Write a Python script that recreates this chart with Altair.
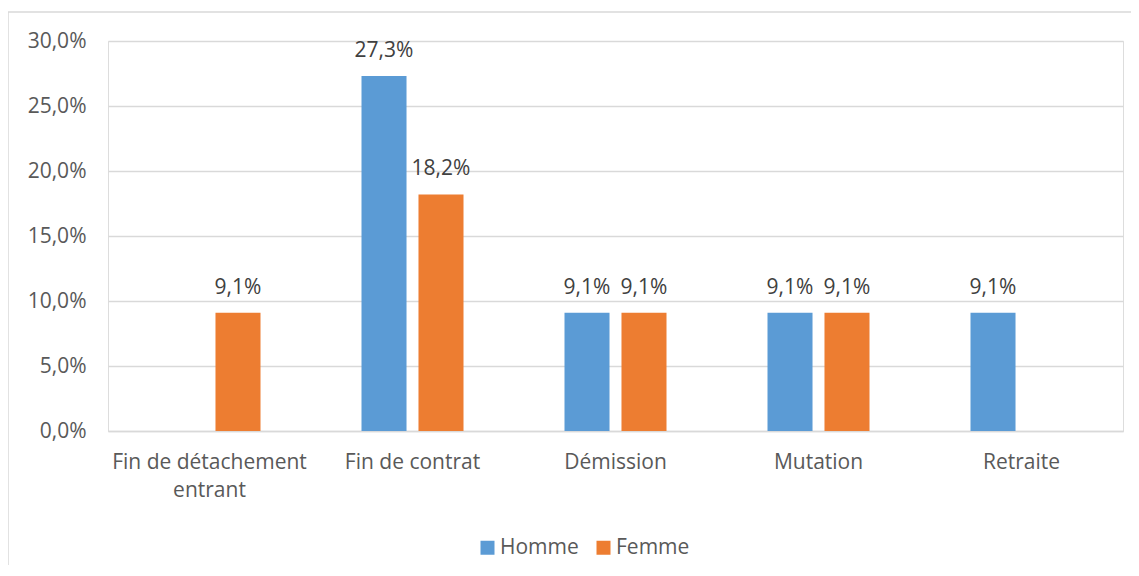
import altair as alt
import pandas as pd

categories = ["Fin de détachement entrant", "Fin de contrat", "Démission", "Mutation", "Retraite"]
series = ["Homme", "Femme"]
homme = [None, 0.273, 0.091, 0.091, 0.091]
femme = [0.091, 0.182, 0.091, 0.091, None]
colors = ["#5B9BD5", "#ED7D31"]
y_ticks = [0, 0.05, 0.10, 0.15, 0.20, 0.25, 0.30]

rows = []
for c, h, f in zip(categories, homme, femme):
    if h is not None:
        rows.append({"cat": c, "serie": "Homme", "val": h})
    if f is not None:
        rows.append({"cat": c, "serie": "Femme", "val": f})
df = pd.DataFrame(rows)

FONT = "Open Sans"
FS = 21

x_enc = alt.X("cat:N", sort=categories, title=None,
              scale=alt.Scale(paddingInner=0.4975, paddingOuter=0.24875),
              axis=alt.Axis(labelAngle=0, labelFont=FONT, labelFontSize=FS, labelColor="#595959",
                            labelPadding=20, labelLineHeight=28, ticks=False, labelLimit=0,
                            domainColor="#D9D9D9", domainWidth=1.5,
                            labelExpr="datum.label == 'Fin de détachement entrant' ? ['Fin de détachement', 'entrant'] : datum.label"))
xo_enc = alt.XOffset("serie:N", sort=series, scale=alt.Scale(paddingInner=0.21, paddingOuter=0))
y_enc = alt.Y("val:Q", title=None,
              scale=alt.Scale(domain=[0, 0.3], nice=False),
              axis=alt.Axis(values=y_ticks, labelFont=FONT, labelFontSize=FS, labelColor="#595959",
                            labelPadding=22, ticks=False, domain=False,
                            gridColor="#D9D9D9", gridWidth=1.3,
                            labelExpr="replace(format(datum.value, '.1%'), '.', ',')"))

base = alt.Chart(df)

bars = base.mark_bar().encode(
    x=x_enc, xOffset=xo_enc, y=y_enc,
    color=alt.Color("serie:N", sort=series, title=None,
                    scale=alt.Scale(domain=series, range=colors),
                    legend=alt.Legend(orient="none", legendX=369, legendY=496, direction="horizontal",
                                      symbolType="square", symbolSize=196, symbolStrokeWidth=0,
                                      labelFont=FONT, labelFontSize=FS, labelColor="#595959",
                                      labelOffset=2, columnPadding=14, padding=0)),
)

texts = base.transform_calculate(
    lbl="replace(format(datum.val, '.1%'), '.', ',')"
).mark_text(font=FONT, fontSize=FS, color="#404040", baseline="alphabetic", dy=-19).encode(
    x=x_enc, xOffset=xo_enc, y=y_enc, text="lbl:N"
)

border = alt.Chart(pd.DataFrame({"a": [0]})).mark_rect(fill=None, stroke="#D9D9D9", strokeWidth=1.5).encode(
    x=alt.value(-100), x2=alt.value(1060), y=alt.value(-29), y2=alt.value(600)
)

chart = alt.layer(border, bars, texts).properties(
    width=1015, height=390,
    autosize=alt.AutoSizeParams(type="none"),
    padding={"left": 100, "top": 33, "right": 8, "bottom": 134},
).configure_view(stroke=None).configure(background="white")

chart.save("out.html", embed_options={"renderer": "svg", "actions": False})
